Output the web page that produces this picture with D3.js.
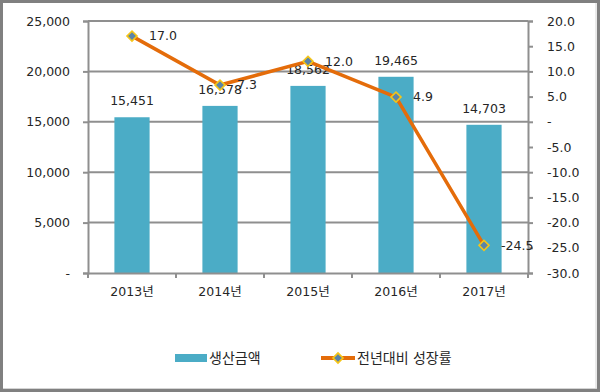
<!DOCTYPE html>
<html><head><meta charset="utf-8">
<script src="https://cdn.jsdelivr.net/npm/d3@7"></script>
<style>
html,body{margin:0;padding:0;background:#fff;}
text{font-family:"DejaVu Sans","Noto Sans CJK KR",sans-serif;fill:#262626;}
</style></head>
<body>
<svg id="c" width="600" height="392"></svg>
<script>
const years = ["2013년","2014년","2015년","2016년","2017년"];
const production = [15451,16578,18562,19465,14703];
const growth = [17.0,7.3,12.0,4.9,-24.5];
const leftTicks = [0,5000,10000,15000,20000,25000];
const rightTicks = [20,15,10,5,0,-5,-10,-15,-20,-25,-30];
const legendLabels = ["생산금액","전년대비 성장률"];

const loc = d3.formatLocale({decimal:".",thousands:",",grouping:[3],currency:["",""],minus:"-"});
const fmtInt = loc.format(","), fmt1 = loc.format(".1f");

const barColor = "#4bacc6", lineColor = "#e46c0a", gridColor = "#8f8f8f";
const svg = d3.select("#c");
const L = 88, R = 528, T = 21, B = 273;

svg.append("rect").attr("x",0).attr("y",0).attr("width",600).attr("height",392).attr("fill","#fff");

const x = d3.scaleBand().domain(years).range([L,R]).paddingInner(0.6).paddingOuter(0.3);
const yL = d3.scaleLinear().domain([0,25000]).range([B,T]);
const yR = d3.scaleLinear().domain([-30,20]).range([B,T]);

// gridlines
svg.append("g").selectAll("line").data(leftTicks.filter(d=>d>0)).join("line")
  .attr("x1",L).attr("x2",R).attr("y1",d=>yL(d)).attr("y2",d=>yL(d))
  .attr("stroke",gridColor).attr("stroke-width",2);

// left axis
const ax1 = svg.append("g").attr("transform",`translate(${L},0)`)
  .call(d3.axisLeft(yL).tickValues(leftTicks).tickSize(5).tickPadding(13)
    .tickFormat(d=>d===0?"-":fmtInt(d)));
// right axis
const ax2 = svg.append("g").attr("transform",`translate(${R},0)`)
  .call(d3.axisRight(yR).tickValues(rightTicks).tickSize(5).tickPadding(14)
    .tickFormat(d=>d===0?"-":fmt1(d)));
[ax1,ax2].forEach(a=>{
  a.select(".domain").attr("stroke",gridColor).attr("stroke-width",2);
  a.selectAll(".tick line").attr("stroke",gridColor).attr("stroke-width",2);
  a.selectAll("text").attr("font-size","12.5px").attr("fill","#262626");
});

// bars
svg.append("g").selectAll("rect").data(production).join("rect")
  .attr("x",(d,i)=>x(years[i])).attr("width",x.bandwidth())
  .attr("y",d=>yL(d)).attr("height",d=>B-yL(d)).attr("fill",barColor);

// x axis
const ax3 = svg.append("g").attr("transform",`translate(0,${B})`)
  .call(d3.axisBottom(x).tickSize(0).tickPadding(14));
ax3.select(".domain").attr("stroke",gridColor).attr("stroke-width",2);
ax3.selectAll("text").attr("font-size","12.5px").attr("fill","#262626");
const bounds = d3.range(years.length+1).map(i=>L + i*x.step());
svg.append("g").selectAll("line").data(bounds).join("line")
  .attr("x1",d=>d).attr("x2",d=>d).attr("y1",B).attr("y2",B+5)
  .attr("stroke",gridColor).attr("stroke-width",2);

// bar labels
svg.append("g").selectAll("text").data(production).join("text")
  .attr("x",(d,i)=>x(years[i])+x.bandwidth()/2).attr("y",d=>yL(d)-12)
  .attr("text-anchor","middle").attr("font-size","12.5px")
  .text(d=>fmtInt(d));

// line
const cx = i => x(years[i]) + x.bandwidth()/2;
svg.append("path").datum(growth)
  .attr("d",d3.line().x((d,i)=>cx(i)).y(d=>yR(d)))
  .attr("fill","none").attr("stroke",lineColor).attr("stroke-width",3.5);
const diamond = d3.symbol().type(d3.symbolSquare).size(50);
svg.append("g").selectAll("path").data(growth).join("path")
  .attr("d",diamond).attr("transform",(d,i)=>`translate(${cx(i)},${yR(d)}) rotate(45)`)
  .attr("fill","#5b84a8").attr("stroke","#f5c518").attr("stroke-width",1.6);
svg.append("g").selectAll("text").data(growth).join("text")
  .attr("x",(d,i)=>cx(i)+17).attr("y",d=>yR(d)).attr("dy","0.35em")
  .attr("font-size","12.5px").text(d=>fmt1(d));

// legend
const ly = 358;
svg.append("rect").attr("x",175).attr("y",ly-4).attr("width",32).attr("height",8).attr("fill",barColor);
svg.append("text").attr("x",209).attr("y",ly).attr("dy","0.36em").attr("font-size","14px")
  .attr("font-family","Noto Sans CJK KR").text(legendLabels[0]);
svg.append("line").attr("x1",321).attr("x2",355).attr("y1",ly).attr("y2",ly)
  .attr("stroke",lineColor).attr("stroke-width",4);
svg.append("path").attr("d",diamond).attr("transform",`translate(338,${ly}) rotate(45)`)
  .attr("fill","#5b84a8").attr("stroke","#f5c518").attr("stroke-width",1.6);
svg.append("text").attr("x",357).attr("y",ly).attr("dy","0.36em").attr("font-size","14px")
  .attr("font-family","Noto Sans CJK KR").text(legendLabels[1]);

// frame
svg.append("line").attr("x1",596).attr("x2",596).attr("y1",3).attr("y2",389).attr("stroke","#d4d4d4").attr("stroke-width",1);
svg.append("line").attr("x1",3).attr("x2",597).attr("y1",388.5).attr("y2",388.5).attr("stroke","#d4d4d4").attr("stroke-width",1);
svg.append("rect").attr("x",0).attr("y",0).attr("width",600).attr("height",392)
  .attr("fill","none").attr("stroke","#808080").attr("stroke-width",6);
</script>
</body></html>
